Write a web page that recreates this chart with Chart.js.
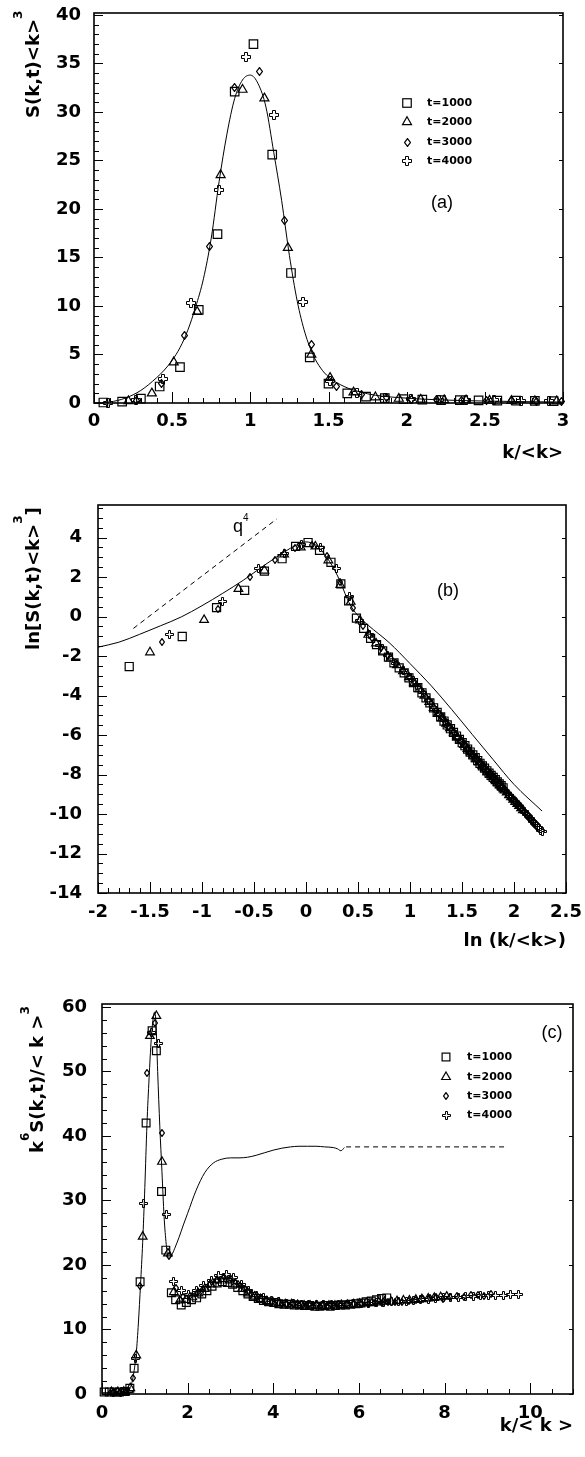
<!DOCTYPE html>
<html>
<head>
<meta charset="utf-8">
<script src="https://cdn.jsdelivr.net/npm/chart.js@4.4.1/dist/chart.umd.min.js"></script>
<style>
html,body{margin:0;padding:0;background:#fff;}
body{width:585px;height:1457px;position:relative;overflow:hidden;}
canvas{position:absolute;left:0;}
</style>
</head>
<body>
<canvas id="chartA" width="585" height="470" style="top:0px;width:585px;height:470px"></canvas>
<canvas id="chartB" width="585" height="490" style="top:470px;width:585px;height:490px"></canvas>
<canvas id="chartC" width="585" height="497" style="top:960px;width:585px;height:497px"></canvas>
<script>
// ---------------- DATA ----------------
const SERIES_LABELS = ['t=1000', 't=2000', 't=3000', 't=4000'];

// Panel (a): S(k,t)<k>^3 vs k/<k>
const A_CURVE_X = [0, 0.1, 0.2, 0.3, 0.4, 0.45, 0.5, 0.55, 0.6, 0.65, 0.7, 0.75, 0.8, 0.85, 0.9, 0.95, 1.0, 1.05, 1.1, 1.15, 1.2, 1.25, 1.3, 1.35, 1.4, 1.45, 1.5, 1.6, 1.7, 1.8, 2.0, 2.2, 2.5, 2.8, 3.0];
const A_CURVE_Y = [0, 0.1, 0.5, 1.3, 2.6, 3.4, 4.4, 5.7, 7.5, 9.9, 12.8, 17.0, 22.8, 27.7, 31.4, 33.3, 33.8, 32.9, 30.5, 25.8, 20.9, 15.2, 10.5, 7.2, 5.0, 3.6, 2.7, 1.7, 1.15, 0.8, 0.5, 0.33, 0.2, 0.13, 0.1];
const A_T1000_X = [0.06, 0.18, 0.30, 0.42, 0.55, 0.67, 0.79, 0.90, 1.02, 1.14, 1.26, 1.38, 1.50, 1.62, 1.74, 1.86, 1.98, 2.10, 2.22, 2.34, 2.46, 2.58, 2.70, 2.82, 2.94];
const A_T1000_Y = [0.05, 0.15, 0.45, 1.7, 3.7, 9.6, 17.4, 32.1, 37.0, 25.6, 13.4, 4.7, 2.0, 1.0, 0.65, 0.5, 0.4, 0.35, 0.3, 0.3, 0.28, 0.25, 0.25, 0.22, 0.2];
const A_T2000_X = [0.22, 0.37, 0.51, 0.66, 0.81, 0.95, 1.09, 1.24, 1.39, 1.51, 1.66, 1.80, 1.95, 2.09, 2.24, 2.38, 2.53, 2.67, 2.82, 2.96];
const A_T2000_Y = [0.2, 1.0, 4.2, 9.4, 23.5, 32.3, 31.4, 16.0, 5.0, 2.6, 1.1, 0.6, 0.45, 0.35, 0.3, 0.28, 0.25, 0.22, 0.2, 0.18];
const A_T3000_X = [0.27, 0.43, 0.58, 0.74, 0.90, 1.06, 1.22, 1.39, 1.55, 1.71, 1.87, 2.03, 2.19, 2.35, 2.51, 2.67, 2.83, 2.99];
const A_T3000_Y = [0.3, 2.0, 7.0, 16.1, 32.5, 34.2, 18.8, 6.0, 1.7, 0.85, 0.55, 0.4, 0.33, 0.3, 0.27, 0.24, 0.2, 0.18];
const A_T4000_X = [0.09, 0.27, 0.44, 0.62, 0.80, 0.97, 1.15, 1.34, 1.51, 1.68, 1.86, 2.03, 2.21, 2.38, 2.56, 2.73, 2.91];
const A_T4000_Y = [0.05, 0.3, 2.5, 10.3, 22.0, 35.7, 29.7, 10.4, 2.3, 1.0, 0.55, 0.4, 0.33, 0.3, 0.27, 0.23, 0.2];
const A_XTICKS = [0, 0.5, 1, 1.5, 2, 2.5, 3];
const A_XLABELS = ['0', '0.5', '1', '1.5', '2', '2.5', '3'];
const A_YTICKS = [0, 5, 10, 15, 20, 25, 30, 35, 40];
const A_YLABELS = ['0', '5', '10', '15', '20', '25', '30', '35', '40'];

// Panel (b): ln[S(k,t)<k>^3] vs ln(k/<k>)
const B_CURVE_X = [-2, -1.8, -1.6, -1.4, -1.2, -1.0, -0.8, -0.6, -0.4, -0.2, -0.1, 0, 0.1, 0.2, 0.3, 0.35, 0.4, 0.45, 0.5, 0.6, 0.8, 1.0, 1.2, 1.4, 1.6, 1.8, 2.0, 2.27];
const B_CURVE_Y = [-1.55, -1.3, -0.9, -0.47, -0.02, 0.55, 1.18, 1.85, 2.6, 3.3, 3.6, 3.78, 3.6, 3.0, 2.1, 1.5, 0.85, 0.38, 0.05, -0.45, -1.32, -2.38, -3.48, -4.7, -5.98, -7.25, -8.5, -9.85];
const B_Q4_X = [-1.66, -0.28];
const B_Q4_Y = [-0.6, 4.95];
const B_T1000_X = [-1.70, -1.19, -0.86, -0.59, -0.40, -0.23, -0.10, 0.02, 0.13, 0.24, 0.335, 0.41, 0.485, 0.554, 0.621, 0.678, 0.737, 0.793, 0.846, 0.896, 0.944, 0.990, 1.033, 1.075, 1.115, 1.154, 1.191, 1.227, 1.261, 1.295, 1.327, 1.358, 1.389, 1.418, 1.447, 1.475, 1.502, 1.528, 1.554, 1.579, 1.604, 1.627, 1.651, 1.673, 1.696, 1.717, 1.739, 1.760, 1.780, 1.800, 1.820, 1.839, 1.858, 1.876, 1.895];
const B_T1000_Y = [-2.53, -1.01, 0.45, 1.33, 2.3, 2.93, 3.55, 3.75, 3.35, 2.75, 1.65, 0.8, -0.08, -0.6, -1.10, -1.42, -1.74, -2.06, -2.34, -2.60, -2.85, -3.10, -3.34, -3.60, -3.86, -4.12, -4.37, -4.62, -4.85, -5.08, -5.29, -5.49, -5.68, -5.87, -6.05, -6.22, -6.39, -6.54, -6.71, -6.86, -7.01, -7.15, -7.29, -7.43, -7.56, -7.68, -7.81, -7.93, -8.04, -8.15, -8.26, -8.37, -8.47, -8.56, -8.67];
const B_T2000_X = [-1.50, -0.98, -0.65, -0.40, -0.21, -0.05, 0.09, 0.215, 0.33, 0.43, 0.52, 0.599, 0.673, 0.747, 0.811, 0.875, 0.932, 0.990, 1.040, 1.092, 1.138, 1.185, 1.227, 1.270, 1.308, 1.348, 1.384, 1.421, 1.454, 1.488, 1.520, 1.552, 1.581, 1.611, 1.639, 1.668, 1.694, 1.721, 1.746, 1.772, 1.795, 1.820, 1.842, 1.866, 1.887, 1.910, 1.930, 1.952, 1.971, 1.992, 2.011, 2.031, 2.049, 2.068, 2.086];
const B_T2000_Y = [-1.81, -0.17, 1.40, 2.33, 3.15, 3.5, 3.55, 2.85, 1.6, 0.75, -0.2, -0.92, -1.36, -1.77, -2.12, -2.46, -2.76, -3.07, -3.36, -3.68, -4.00, -4.32, -4.62, -4.91, -5.16, -5.42, -5.65, -5.88, -6.09, -6.30, -6.50, -6.70, -6.87, -7.05, -7.22, -7.39, -7.55, -7.70, -7.85, -8.00, -8.13, -8.27, -8.41, -8.54, -8.66, -8.80, -8.91, -9.04, -9.15, -9.27, -9.38, -9.49, -9.59, -9.70, -9.80];
const B_T3000_X = [-1.385, -0.85, -0.54, -0.30, -0.11, 0.06, 0.20, 0.33, 0.45, 0.548, 0.637, 0.718, 0.793, 0.863, 0.928, 0.990, 1.047, 1.102, 1.154, 1.203, 1.250, 1.295, 1.338, 1.379, 1.418, 1.456, 1.493, 1.528, 1.562, 1.595, 1.627, 1.658, 1.688, 1.717, 1.746, 1.773, 1.800, 1.826, 1.852, 1.876, 1.901, 1.924, 1.947, 1.970, 1.992, 2.014, 2.035, 2.055, 2.076, 2.096, 2.115, 2.134, 2.153, 2.171, 2.189, 2.207];
const B_T3000_Y = [-1.27, 0.40, 2.0, 2.85, 3.45, 3.6, 3.05, 1.75, 0.45, -0.49, -1.11, -1.59, -2.01, -2.39, -2.74, -3.07, -3.39, -3.73, -4.09, -4.43, -4.76, -5.06, -5.35, -5.61, -5.86, -6.10, -6.33, -6.54, -6.75, -6.95, -7.15, -7.33, -7.50, -7.68, -7.84, -8.01, -8.16, -8.32, -8.47, -8.61, -8.75, -8.89, -9.02, -9.15, -9.28, -9.40, -9.51, -9.62, -9.76, -9.87, -9.97, -10.10, -10.19, -10.29, -10.41, -10.50];
const B_T4000_X = [-1.31, -0.80, -0.46, -0.21, -0.04, 0.14, 0.29, 0.415, 0.515, 0.615, 0.703, 0.788, 0.863, 0.936, 1.001, 1.065, 1.122, 1.179, 1.230, 1.281, 1.327, 1.374, 1.416, 1.459, 1.497, 1.537, 1.573, 1.609, 1.643, 1.677, 1.708, 1.740, 1.770, 1.800, 1.828, 1.856, 1.883, 1.910, 1.935, 1.960, 1.984, 2.008, 2.031, 2.054, 2.076, 2.098, 2.119, 2.140, 2.160, 2.180, 2.199, 2.219, 2.238, 2.257, 2.274];
const B_T4000_Y = [-0.93, 0.78, 2.42, 3.2, 3.65, 3.5, 2.42, 1.0, -0.22, -0.92, -1.48, -1.96, -2.36, -2.75, -3.10, -3.47, -3.84, -4.24, -4.61, -4.96, -5.26, -5.57, -5.84, -6.11, -6.34, -6.59, -6.81, -7.03, -7.23, -7.44, -7.62, -7.81, -7.98, -8.15, -8.32, -8.48, -8.65, -8.80, -8.95, -9.09, -9.23, -9.37, -9.51, -9.63, -9.76, -9.89, -10.01, -10.13, -10.25, -10.36, -10.47, -10.59, -10.70, -10.81, -10.91];
const B_XTICKS = [-2, -1.5, -1, -0.5, 0, 0.5, 1, 1.5, 2, 2.5];
const B_XLABELS = ['-2', '-1.5', '-1', '-0.5', '0', '0.5', '1', '1.5', '2', '2.5'];
const B_YTICKS = [-14, -12, -10, -8, -6, -4, -2, 0, 2, 4];
const B_YLABELS = ['-14', '-12', '-10', '-8', '-6', '-4', '-2', '0', '2', '4'];

// Panel (c): k^6 S(k,t)/<k>^3 vs k/<k>
const C_CURVE_X = [0, 0.3, 0.5, 0.6, 0.65, 0.7, 0.75, 0.8, 0.85, 0.9, 0.95, 1.0, 1.05, 1.1, 1.15, 1.2, 1.23, 1.26, 1.3, 1.35, 1.4, 1.45, 1.5, 1.55, 1.6, 1.7, 1.8, 1.9, 2.0, 2.2, 2.4, 2.6, 2.8, 3.0, 3.2, 3.4, 3.6, 3.8, 4.0, 4.2, 4.4, 4.6, 4.8, 5.0, 5.2, 5.4, 5.5, 5.58, 5.66];
const C_CURVE_Y = [0.2, 0.2, 0.25, 0.4, 0.8, 1.8, 3.6, 6.3, 11.0, 17.0, 23.5, 32.0, 41.8, 49.0, 55.0, 58.5, 59.2, 57.5, 50.0, 41.5, 34.5, 27.5, 23.2, 21.0, 21.2, 22.6, 24.3, 26.2, 28.0, 31.6, 34.3, 35.8, 36.4, 36.6, 36.6, 36.7, 37.0, 37.4, 37.8, 38.1, 38.3, 38.4, 38.4, 38.4, 38.3, 38.2, 38.0, 37.7, 38.2];
const C_DASH_X = [5.7, 9.4];
const C_DASH_Y = [38.3, 38.3];
const C_T1000_X = [0.05, 0.17, 0.29, 0.41, 0.53, 0.65, 0.75, 0.89, 1.03, 1.17, 1.27, 1.39, 1.49, 1.62, 1.72, 1.85, 1.97, 2.09, 2.21, 2.33, 2.45, 2.57, 2.69, 2.81, 2.93, 3.05, 3.17, 3.29, 3.41, 3.53, 3.65, 3.77, 3.89, 4.01, 4.13, 4.25, 4.37, 4.49, 4.61, 4.73, 4.85, 4.97, 5.09, 5.21, 5.33, 5.45, 5.57, 5.69, 5.81, 5.93, 6.05, 6.17, 6.29, 6.41, 6.53, 6.65];
const C_T1000_Y = [0.3, 0.3, 0.3, 0.3, 0.4, 0.9, 4.0, 17.4, 42.0, 56.3, 53.2, 31.4, 22.3, 15.7, 14.6, 13.8, 14.2, 14.6, 14.9, 15.5, 16.0, 16.7, 17.2, 17.4, 17.3, 17.0, 16.5, 16.0, 15.5, 15.1, 14.8, 14.5, 14.3, 14.2, 14.0, 13.9, 13.9, 13.8, 13.8, 13.7, 13.7, 13.6, 13.6, 13.7, 13.6, 13.7, 13.8, 13.8, 13.9, 14.0, 14.1, 14.3, 14.4, 14.6, 14.8, 14.9];
const C_T2000_X = [0.22, 0.37, 0.51, 0.66, 0.80, 0.95, 1.12, 1.27, 1.40, 1.54, 1.68, 1.82, 1.96, 2.11, 2.25, 2.40, 2.54, 2.69, 2.83, 2.98, 3.12, 3.27, 3.41, 3.56, 3.70, 3.85, 3.99, 4.14, 4.28, 4.43, 4.57, 4.72, 4.86, 5.01, 5.15, 5.30, 5.44, 5.59, 5.73, 5.88, 6.02, 6.17, 6.31, 6.46, 6.60, 6.75, 6.89, 7.04, 7.18, 7.33, 7.47, 7.62, 7.76, 7.91, 8.05];
const C_T2000_Y = [0.3, 0.3, 0.35, 0.9, 6.0, 24.4, 55.5, 58.6, 36.0, 21.8, 15.8, 14.5, 14.6, 15.0, 15.6, 16.3, 17.0, 17.6, 17.8, 17.6, 17.0, 16.3, 15.6, 15.1, 14.7, 14.4, 14.2, 14.1, 13.9, 13.9, 13.8, 13.7, 13.7, 13.7, 13.6, 13.7, 13.7, 13.8, 13.8, 13.9, 14.0, 14.1, 14.1, 14.2, 14.3, 14.3, 14.4, 14.5, 14.5, 14.6, 14.7, 14.8, 14.9, 15.0, 15.1];
const C_T3000_X = [0.25, 0.41, 0.57, 0.73, 0.89, 1.06, 1.23, 1.40, 1.57, 1.73, 1.89, 2.05, 2.21, 2.37, 2.53, 2.69, 2.85, 3.01, 3.17, 3.33, 3.49, 3.65, 3.81, 3.97, 4.13, 4.29, 4.45, 4.61, 4.77, 4.93, 5.09, 5.25, 5.41, 5.57, 5.73, 5.89, 6.05, 6.21, 6.37, 6.53, 6.69, 6.85, 7.01, 7.17, 7.33, 7.49, 7.65, 7.81, 7.97, 8.13, 8.29, 8.45, 8.61, 8.77, 8.93, 9.09];
const C_T3000_Y = [0.3, 0.3, 0.5, 2.5, 16.8, 49.8, 57.5, 40.5, 21.4, 16.5, 15.0, 15.2, 15.6, 16.2, 17.0, 17.7, 18.1, 17.8, 17.0, 16.2, 15.5, 15.0, 14.6, 14.3, 14.1, 14.0, 13.9, 13.8, 13.8, 13.7, 13.7, 13.7, 13.8, 13.8, 13.9, 13.9, 14.0, 14.0, 14.1, 14.1, 14.2, 14.2, 14.3, 14.4, 14.5, 14.7, 14.9, 15.1, 14.8, 15.0, 15.2, 15.0, 15.3, 15.4, 15.2, 15.5];
const C_T4000_X = [0.27, 0.44, 0.62, 0.79, 0.96, 1.15, 1.33, 1.50, 1.67, 1.85, 2.02, 2.20, 2.37, 2.55, 2.72, 2.90, 3.07, 3.25, 3.42, 3.60, 3.77, 3.95, 4.12, 4.30, 4.47, 4.65, 4.82, 5.00, 5.17, 5.35, 5.52, 5.70, 5.87, 6.05, 6.22, 6.40, 6.57, 6.75, 6.92, 7.10, 7.27, 7.45, 7.62, 7.80, 7.97, 8.15, 8.32, 8.50, 8.67, 8.85, 9.02, 9.20, 9.37, 9.55, 9.72];
const C_T4000_Y = [0.3, 0.3, 0.4, 5.5, 29.5, 56.0, 54.3, 27.9, 17.5, 16.0, 15.5, 16.0, 16.8, 17.6, 18.3, 18.6, 18.0, 17.0, 16.0, 15.3, 14.9, 14.5, 14.3, 14.1, 14.0, 13.9, 13.8, 13.8, 13.8, 13.8, 13.9, 13.9, 14.0, 14.1, 14.1, 14.2, 14.2, 14.3, 14.3, 14.4, 14.5, 14.6, 14.6, 14.8, 14.9, 14.9, 15.0, 15.1, 15.1, 15.2, 15.2, 15.3, 15.3, 15.4, 15.4];
const C_XTICKS = [0, 2, 4, 6, 8, 10];
const C_XLABELS = ['0', '2', '4', '6', '8', '10'];
const C_YTICKS = [0, 10, 20, 30, 40, 50, 60];
const C_YLABELS = ['0', '10', '20', '30', '40', '50', '60'];

// ---------------- HELPERS ----------------
const TICK_FONT = { family: "'DejaVu Sans', sans-serif", size: 18, weight: 'bold' };
const BOLD18 = "bold 18px 'DejaVu Sans', sans-serif";
const BOLD12 = "bold 12px 'DejaVu Sans', sans-serif";
const LEG_FONT = "bold 11px 'DejaVu Sans', sans-serif";
const THIN18 = "18px 'Liberation Sans', Arial, sans-serif";

function pts(xs, ys) { return xs.map((x, i) => ({ x: x, y: ys[i] })); }
function tickRange(a, b, step) { const out = []; const n = Math.round((b - a) / step); for (let i = 0; i <= n; i++) out.push(+(a + i * step).toFixed(4)); return out; }

function diamondCanvas(w, h) {
  const c = document.createElement('canvas'); c.width = w + 1; c.height = h + 1;
  const g = c.getContext('2d'); g.strokeStyle = '#000'; g.lineWidth = 1.25;
  const cx = (w + 1) / 2, cy = (h + 1) / 2;
  g.beginPath(); g.moveTo(cx, 0.6); g.lineTo(w + 0.4, cy); g.lineTo(cx, h + 0.4); g.lineTo(0.6, cy); g.closePath(); g.stroke();
  return c;
}
function plusCanvas(n, a0, a1) {
  // n: canvas size; outline at 0.5 .. n-0.5, arm edges at a0+0.5 and a1+0.5
  const c = document.createElement('canvas'); c.width = n; c.height = n;
  const g = c.getContext('2d'); g.strokeStyle = '#000'; g.lineWidth = 1;
  const lo = 0.5, hi = n - 0.5, p = a0 + 0.5, q = a1 + 0.5;
  const P = [[p, lo], [q, lo], [q, p], [hi, p], [hi, q], [q, q], [q, hi], [p, hi], [p, q], [lo, q], [lo, p], [p, p]];
  g.beginPath(); P.forEach((v, i) => i ? g.lineTo(v[0], v[1]) : g.moveTo(v[0], v[1])); g.closePath(); g.stroke();
  return c;
}
const DIAM_A = diamondCanvas(6, 8);
const DIAM_S = diamondCanvas(5, 7);
const PLUS_A = plusCanvas(10, 3, 6);
const PLUS_S = plusCanvas(9, 3, 5);

function curve(xs, ys, dash) {
  return { type: 'line', data: pts(xs, ys), borderColor: '#000', borderWidth: 1, pointRadius: 0, fill: false,
    cubicInterpolationMode: 'monotone', borderDash: dash || [], order: 5 };
}
function marks(xs, ys, style, r) {
  return { type: 'line', data: pts(xs, ys), showLine: false, pointStyle: style, pointRadius: r,
    pointBorderColor: '#000', pointBackgroundColor: 'rgba(0,0,0,0)', pointBorderWidth: 1.2, clip: false, order: 1 };
}

function drawMarker(ctx, style, r, x, y) {
  ctx.save(); ctx.strokeStyle = '#000'; ctx.lineWidth = 1.2; ctx.imageSmoothingEnabled = false;
  if (style === 'rect') {
    const s = Math.SQRT1_2 * r; ctx.strokeRect(x - s, y - s, 2 * s, 2 * s);
  } else if (style === 'triangle') {
    ctx.beginPath(); ctx.moveTo(x, y - r); ctx.lineTo(x + 0.866 * r, y + 0.5 * r); ctx.lineTo(x - 0.866 * r, y + 0.5 * r); ctx.closePath(); ctx.stroke();
  } else if (style && style.width) {
    ctx.drawImage(style, Math.round(x - style.width / 2), Math.round(y - style.height / 2));
  }
  ctx.restore();
}

function drawRich(ctx, it) {
  const widths = it.parts.map(p => { ctx.font = p[1] ? (it.supFont || BOLD12) : it.font; return ctx.measureText(p[0]).width; });
  const total = widths.reduce((a, b) => a + b, 0);
  ctx.save();
  ctx.translate(it.x, it.y);
  if (it.rotate) ctx.rotate(-Math.PI / 2);
  let cx = it.align === 'right' ? -total : (it.align === 'center' ? -total / 2 : 0);
  ctx.fillStyle = '#000'; ctx.textAlign = 'left'; ctx.textBaseline = it.baseline || 'alphabetic';
  it.parts.forEach((p, i) => { ctx.font = p[1] ? (it.supFont || BOLD12) : it.font; ctx.fillText(p[0], cx, p[1] ? -(it.supRise || 14) : 0); cx += widths[i]; });
  ctx.restore();
}

const crisp = {
  id: 'crisp',
  beforeDatasetsDraw(chart) { chart.ctx.imageSmoothingEnabled = false; },
  afterDatasetsDraw(chart) { chart.ctx.imageSmoothingEnabled = true; }
};
const frameTicks = {
  id: 'frameTicks',
  afterDraw(chart, args, o) {
    const ctx = chart.ctx, ca = chart.chartArea, xs = chart.scales.x, ys = chart.scales.y;
    ctx.save(); ctx.strokeStyle = '#000'; ctx.lineWidth = 1; ctx.beginPath();
    const vx = (v, len) => { const p = Math.round(xs.getPixelForValue(v)) + 0.5; ctx.moveTo(p, ca.bottom); ctx.lineTo(p, ca.bottom - len); };
    const vy = (v, len, rl) => { const p = Math.round(ys.getPixelForValue(v)) + 0.5; ctx.moveTo(ca.left, p); ctx.lineTo(ca.left + len, p); if (rl) { ctx.moveTo(ca.right, p); ctx.lineTo(ca.right - rl, p); } };
    o.xMinor.forEach(v => vx(v, 5));
    o.xMajor.forEach(v => vx(v, 11));
    o.yMinor.forEach(v => vy(v, 5, 0));
    o.yMajor.forEach(v => vy(v, 9, 4));
    ctx.stroke();
    ctx.lineWidth = 1.6;
    ctx.strokeRect(ca.left, ca.top, ca.right - ca.left, ca.bottom - ca.top);
    ctx.restore();
  }
};
const annot = {
  id: 'annot',
  afterDraw(chart, args, o) {
    const ctx = chart.ctx;
    (o.items || []).forEach(it => drawRich(ctx, it));
    if (o.legend) {
      const L = o.legend;
      L.entries.forEach((e, i) => {
        drawMarker(ctx, e.style, e.r, L.mx, L.rows[i]);
        ctx.save(); ctx.font = LEG_FONT; ctx.fillStyle = '#000'; ctx.textAlign = 'left'; ctx.textBaseline = 'middle';
        ctx.fillText(SERIES_LABELS[i], L.tx, L.rows[i] + 0.5); ctx.restore();
      });
    }
  }
};

function makeChart(id, cfg) {
  const yTicks = cfg.yTicks, xTicks = cfg.xTicks;
  return new Chart(document.getElementById(id), {
    type: 'line',
    data: { datasets: cfg.datasets },
    plugins: [crisp, frameTicks, annot],
    options: {
      responsive: false, animation: false, devicePixelRatio: 1,
      layout: { padding: cfg.padding },
      plugins: {
        legend: { display: false }, tooltip: { enabled: false },
        frameTicks: cfg.frame,
        annot: cfg.annot
      },
      scales: {
        x: {
          type: 'linear', min: cfg.xMin, max: cfg.xMax,
          grid: { display: false, drawTicks: false }, border: { display: false },
          afterBuildTicks: s => { s.ticks = xTicks.map(v => ({ value: v })); },
          afterFit: s => { s.height = cfg.xHeight; s.paddingLeft = 0; s.paddingRight = 0; s.paddingTop = 0; s.paddingBottom = 0; },
          ticks: { font: TICK_FONT, color: '#000', padding: cfg.xPad, autoSkip: false, maxRotation: 0, minRotation: 0,
            callback: (v, i) => cfg.xLabels[i] }
        },
        y: {
          type: 'linear', min: cfg.yMin, max: cfg.yMax,
          grid: { display: false, drawTicks: false }, border: { display: false },
          afterBuildTicks: s => { s.ticks = yTicks.map(v => ({ value: v })); },
          afterFit: s => { s.width = cfg.yWidth; s.paddingLeft = 0; s.paddingRight = 0; s.paddingTop = 0; s.paddingBottom = 0; },
          ticks: { font: TICK_FONT, color: '#000', padding: cfg.yPad, autoSkip: false,
            callback: (v, i) => cfg.yLabels[i] }
        }
      }
    }
  });
}

Chart.defaults.color = '#000';

// ---------------- PANEL A ----------------
makeChart('chartA', {
  datasets: [
    curve(A_CURVE_X, A_CURVE_Y),
    marks(A_T1000_X, A_T1000_Y, 'rect', 6),
    marks(A_T2000_X, A_T2000_Y, 'triangle', 5.2),
    marks(A_T3000_X, A_T3000_Y, DIAM_A, 4),
    marks(A_T4000_X, A_T4000_Y, PLUS_A, 5)
  ],
  padding: { top: 13, right: 22, left: 0, bottom: 0 },
  xMin: 0, xMax: 3, yMin: 0, yMax: 40.2,
  xTicks: A_XTICKS, xLabels: A_XLABELS, yTicks: A_YTICKS, yLabels: A_YLABELS,
  xHeight: 67, yWidth: 94, xPad: 8, yPad: 13,
  frame: { xMajor: A_XTICKS, xMinor: tickRange(0, 3, 0.1), yMajor: A_YTICKS, yMinor: tickRange(0, 40, 1) },
  annot: {
    items: [
      { parts: [['S(k,t)<k>', 0], ['3', 1]], x: 38.5, y: 118, rotate: true, font: BOLD18, supRise: 17 },
      { parts: [['k/<k>', 0]], x: 563, y: 458, align: 'right', font: BOLD18 },
      { parts: [['(a)', 0]], x: 442, y: 208, align: 'center', font: THIN18 }
    ],
    legend: { mx: 407, tx: 427, rows: [103, 122, 142, 161],
      entries: [{ style: 'rect', r: 6 }, { style: 'triangle', r: 5.2 }, { style: DIAM_A, r: 4 }, { style: PLUS_A, r: 5 }] }
  }
});

// ---------------- PANEL B ----------------
makeChart('chartB', {
  datasets: [
    curve(B_CURVE_X, B_CURVE_Y),
    curve(B_Q4_X, B_Q4_Y, [5, 4]),
    marks(B_T1000_X, B_T1000_Y, 'rect', 5.7),
    marks(B_T2000_X, B_T2000_Y, 'triangle', 5),
    marks(B_T3000_X, B_T3000_Y, DIAM_S, 4),
    marks(B_T4000_X, B_T4000_Y, PLUS_S, 5)
  ],
  padding: { top: 35, right: 19, left: 0, bottom: 0 },
  xMin: -2, xMax: 2.5, yMin: -14, yMax: 5.65,
  xTicks: B_XTICKS, xLabels: B_XLABELS, yTicks: B_YTICKS, yLabels: B_YLABELS,
  xHeight: 67, yWidth: 98, xPad: 9, yPad: 16,
  frame: { xMajor: B_XTICKS, xMinor: tickRange(-2, 2.5, 0.1), yMajor: B_YTICKS, yMinor: tickRange(-14, 5.5, 0.5) },
  annot: {
    items: [
      { parts: [['ln[S(k,t)<k>', 0], ['3', 1], [']', 0]], x: 38.5, y: 180, rotate: true, font: BOLD18, supRise: 17 },
      { parts: [['ln (k/<k>)', 0]], x: 566, y: 476, align: 'right', font: BOLD18 },
      { parts: [['(b)', 0]], x: 448, y: 126, align: 'center', font: THIN18 },
      { parts: [['q', 0], ['4', 1]], x: 233, y: 62, font: THIN18, supFont: "10px 'Liberation Sans', Arial, sans-serif", supRise: 11 }
    ]
  }
});

// ---------------- PANEL C ----------------
makeChart('chartC', {
  datasets: [
    curve(C_CURVE_X, C_CURVE_Y),
    curve(C_DASH_X, C_DASH_Y, [5, 4]),
    marks(C_T1000_X, C_T1000_Y, 'rect', 5.5),
    marks(C_T2000_X, C_T2000_Y, 'triangle', 5),
    marks(C_T3000_X, C_T3000_Y, DIAM_S, 4),
    marks(C_T4000_X, C_T4000_Y, PLUS_S, 5)
  ],
  padding: { top: 44, right: 12, left: 0, bottom: 0 },
  xMin: 0, xMax: 11, yMin: 0, yMax: 60.45,
  xTicks: C_XTICKS, xLabels: C_XLABELS, yTicks: C_YTICKS, yLabels: C_YLABELS,
  xHeight: 63, yWidth: 102, xPad: 9, yPad: 15,
  frame: { xMajor: C_XTICKS, xMinor: tickRange(0, 11, 0.5), yMajor: C_YTICKS, yMinor: tickRange(0, 60, 2) },
  annot: {
    items: [
      { parts: [['k', 0], ['6', 1], ['S(k,t)/< k >', 0], ['3', 1]], x: 43, y: 193, rotate: true, font: BOLD18, supRise: 14 },
      { parts: [['k/< k >', 0]], x: 573, y: 471, align: 'right', font: BOLD18 },
      { parts: [['(c)', 0]], x: 552, y: 78, align: 'center', font: THIN18 }
    ],
    legend: { mx: 446, tx: 467, rows: [97, 117, 136, 155],
      entries: [{ style: 'rect', r: 5.5 }, { style: 'triangle', r: 5 }, { style: DIAM_S, r: 4 }, { style: PLUS_S, r: 5 }] }
  }
});
</script>
</body>
</html>
